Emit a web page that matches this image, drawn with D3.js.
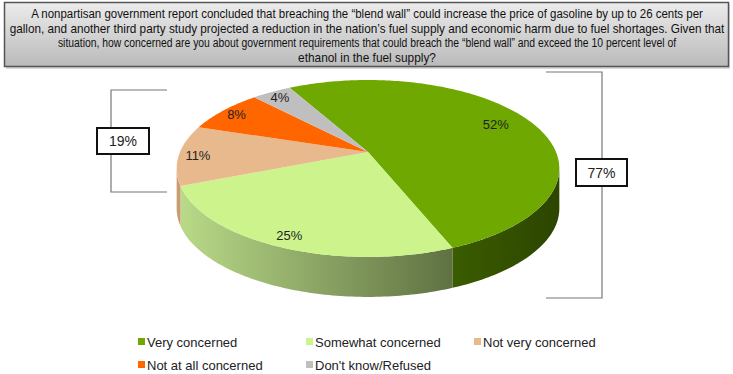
<!DOCTYPE html>
<html>
<head>
<meta charset="utf-8">
<script src="https://cdn.jsdelivr.net/npm/d3@7"></script>
<style>
    body { margin: 0; background: #fff; }
    svg { display: block; font-family: Arial, "Liberation Sans", sans-serif; }
</style>
</head>
<body>
<div id="chart"></div>
<script>
// data
let categories = ["Very concerned", "Somewhat concerned", "Not very concerned", "Not at all concerned", "Don't know/Refused"];
let values = [52, 25, 11, 8, 4];
let titleLines = [
    "A nonpartisan government report concluded that breaching the \u201cblend wall\u201d could increase the price of gasoline by up to 26 cents per",
    "gallon, and another third party study projected a reduction in the nation\u2019s fuel supply and economic harm due to fuel shortages. Given that",
    "situation, how concerned are you about government requirements that could breach the \u201cblend wall\u201d and exceed the 10 percent level of",
    "ethanol in the fuel supply?"
];
let groupLabels = ["77%", "19%"];

let topColors = ["#6ea800", "#cdf48c", "#e9b98e", "#ff6600", "#bfbfbf"];
let sideColors = [["#3b5c00", "#2c4500"], ["#b9da88", "#5f7142"], ["#c99c74", "#c99c74"], ["#c04d00", "#c04d00"], ["#909090", "#909090"]];

let width = 733, height = 374;

let svg = d3.select("#chart").append("svg")
    .attr("width", width)
    .attr("height", height);

let defs = svg.append("defs");

// title box
let tg = defs.append("linearGradient").attr("id", "titleGrad")
    .attr("x1", 0).attr("y1", 0).attr("x2", 0).attr("y2", 1);
tg.append("stop").attr("offset", "0%").attr("stop-color", "#ececec");
tg.append("stop").attr("offset", "100%").attr("stop-color", "#bababa");

svg.append("rect")
    .attr("x", 6).attr("y", 4).attr("width", 724).attr("height", 65)
    .attr("fill", "#d8d8d8");
svg.append("rect")
    .attr("x", 4.5).attr("y", 2.5).attr("width", 724).attr("height", 64)
    .attr("fill", "url(#titleGrad)")
    .attr("stroke", "#555").attr("stroke-width", 1.5);

// the title uses a narrow face: squeeze each line to the width seen on the picture
let titleWidths = [672, 715, 619, 138];
svg.append("g").selectAll("text")
    .data(titleLines)
    .join("text")
    .attr("text-anchor", "middle")
    .style("font-size", "12.5px")
    .attr("fill", "#111")
    .text(d => d)
    .attr("transform", function(d, i) {
        let sx = titleWidths[i] / this.getComputedTextLength();
        return `translate(367,${18 + i * 14.6}) scale(${sx},1)`;
    });

// pie in perspective: apex, radius, vertical scale, perspective factor
let ax = 368, ay = 152, R = 188, C = 85.4, K = 0.186, depth = 40;
let deg = Math.PI / 180;

let pie = d3.pie().sort(null)
    .startAngle(-29 * deg)
    .endAngle(331 * deg);
let arcs = pie(values);

function proj(a, r, dy) {
    let X = r * Math.sin(a), Z = r * Math.cos(a);
    let w = 1 + K * Z;
    return [ax + R * X / w, ay - C * Z / w + (dy || 0)];
}

function samples(a0, a1) {
    let n = Math.max(2, Math.ceil(Math.abs(a1 - a0) / (1 * deg)));
    return d3.range(n + 1).map(j => a0 + (a1 - a0) * j / n);
}

let line = d3.line();

// silhouette angles of the side wall
let sideFrom = Math.PI / 2 + Math.asin(K), sideTo = 1.5 * Math.PI - Math.asin(K);

// sides (front only)
arcs.forEach(function(d, i) {
    let a0 = Math.max(d.startAngle, sideFrom);
    let a1 = Math.min(d.endAngle, sideTo);
    if (a1 <= a0) return;
    let top = samples(a0, a1).map(a => proj(a, 1, 0));
    let bottom = samples(a1, a0).map(a => proj(a, 1, depth));
    let xs = top.map(p => p[0]);
    let gid = "side" + i;
    let g = defs.append("linearGradient").attr("id", gid)
        .attr("gradientUnits", "userSpaceOnUse")
        .attr("x1", d3.min(xs)).attr("x2", d3.max(xs))
        .attr("y1", 0).attr("y2", 0);
    g.append("stop").attr("offset", "0%").attr("stop-color", sideColors[i][0]);
    g.append("stop").attr("offset", "100%").attr("stop-color", sideColors[i][1]);
    svg.append("path")
        .attr("d", line(top.concat(bottom)) + "Z")
        .attr("fill", `url(#${gid})`);
});

// top faces
svg.append("g").selectAll("path")
    .data(arcs)
    .join("path")
    .attr("d", d => line([[ax, ay]].concat(samples(d.startAngle, d.endAngle).map(a => proj(a, 1, 0)))) + "Z")
    .attr("fill", (d, i) => topColors[i]);

// slice labels
function labelPos(d) {
    let m = (d.startAngle + d.endAngle) / 2;
    return proj(m, d.data > 40 ? 0.8 : 0.9, 0);
}
svg.append("g").selectAll("text")
    .data(arcs)
    .join("text")
    .attr("x", d => labelPos(d)[0])
    .attr("y", d => labelPos(d)[1] + 5)
    .attr("text-anchor", "middle")
    .style("font-size", "13px")
    .attr("fill", "#222")
    .text(d => d.data + "%");

// brackets
function bracket(x0, x1, y0, y1, bx, by, bw, bh, label) {
    let g = svg.append("g");
    g.append("path")
        .attr("d", `M${x0},${y0}H${x1}V${y1}H${x0}`)
        .attr("fill", "none").attr("stroke", "#777").attr("stroke-width", 1.2);
    g.append("rect")
        .attr("x", bx).attr("y", by).attr("width", bw).attr("height", bh)
        .attr("fill", "#fff").attr("stroke", "#111").attr("stroke-width", 2);
    g.append("text")
        .attr("x", bx + bw / 2).attr("y", by + bh / 2 + 5)
        .attr("text-anchor", "middle")
        .style("font-size", "14px")
        .attr("fill", "#222")
        .text(label);
}
bracket(546, 602, 72, 298, 576, 159, 51, 27, groupLabels[0]);
bracket(167, 111, 90, 192, 97, 128, 52, 26, groupLabels[1]);

// legend
let legendX = [138, 306, 474];
let legend = svg.append("g").selectAll("g")
    .data(categories)
    .join("g")
    .attr("transform", (d, i) => `translate(${legendX[i % 3]},${342 + Math.floor(i / 3) * 23})`);
legend.append("rect")
    .attr("x", 0).attr("y", -4).attr("width", 7).attr("height", 7)
    .attr("fill", (d, i) => topColors[i]);
legend.append("text")
    .attr("x", 9).attr("y", 5)
    .style("font-size", "13px")
    .attr("fill", "#222")
    .text(d => d);
</script>
</body>
</html>
